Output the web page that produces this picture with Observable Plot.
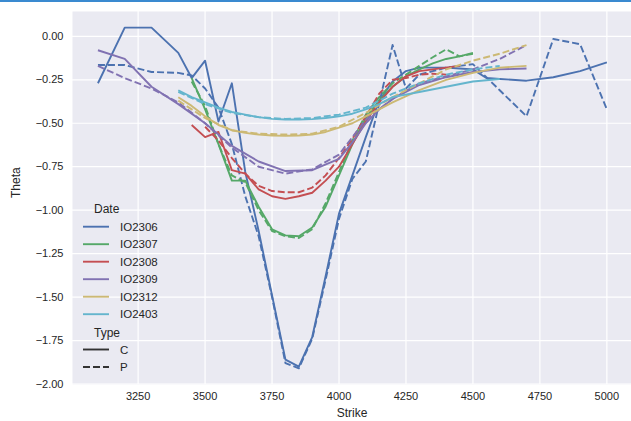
<!DOCTYPE html>
<html><head><meta charset="utf-8">
<script src="https://cdn.jsdelivr.net/npm/d3@7"></script>
<script src="https://cdn.jsdelivr.net/npm/@observablehq/plot@0.6"></script>
<style>
html,body{margin:0;padding:0;background:#fff;}
#wrap{position:relative;width:631px;height:421px;overflow:hidden;font-family:"Liberation Sans",Arial,sans-serif;}
#bar{height:2px;background:#3a8ad0;}
#chart svg{display:block;}
#legend{position:absolute;left:0;top:0;pointer-events:none;}
</style></head><body>
<div id="wrap"><div id="bar"></div><div id="chart"></div><svg id="legend" width="631" height="421"></svg></div>
<script>
const dates = ["IO2306","IO2307","IO2308","IO2309","IO2312","IO2403"];
const colors = ["#4c72b0","#55a868","#c44e52","#8172b2","#ccb974","#64b5cd"];
const types = ["C","P"];
const xTicks = [3250,3500,3750,4000,4250,4500,4750,5000];
const yTicks = [0,-0.25,-0.5,-0.75,-1,-1.25,-1.5,-1.75,-2];

// IO2306
const io2306C_strike = [3100,3200,3300,3400,3450,3500,3550,3600,3650,3700,3750,3800,3850,3900,3950,4000,4050,4100,4150,4200,4250,4300,4350,4400,4450,4500,4550,4600,4700,4800,4900,5000];
const io2306C_theta  = [-0.27,0.05,0.05,-0.095,-0.24,-0.14,-0.49,-0.27,-0.78,-1.12,-1.49,-1.86,-1.90,-1.73,-1.38,-1.02,-0.80,-0.58,-0.37,-0.26,-0.20,-0.18,-0.18,-0.18,-0.185,-0.19,-0.24,-0.245,-0.255,-0.235,-0.2,-0.15];
const io2306P_strike = [3100,3200,3300,3400,3450,3500,3550,3600,3650,3700,3750,3800,3850,3900,3950,4000,4050,4100,4200,4250,4300,4350,4400,4450,4500,4600,4700,4800,4900,5000];
const io2306P_theta  = [-0.165,-0.165,-0.205,-0.21,-0.225,-0.30,-0.41,-0.62,-0.92,-1.15,-1.50,-1.88,-1.91,-1.74,-1.40,-1.05,-0.82,-0.72,-0.05,-0.30,-0.22,-0.20,-0.18,-0.17,-0.16,-0.31,-0.46,-0.015,-0.045,-0.42];
// IO2307
const io2307C_strike = [3450,3500,3550,3600,3650,3700,3750,3800,3850,3900,3950,4000,4050,4100,4150,4200,4250,4300,4350,4400,4450,4500];
const io2307C_theta  = [-0.24,-0.42,-0.62,-0.83,-0.83,-0.98,-1.11,-1.145,-1.15,-1.10,-0.98,-0.80,-0.62,-0.47,-0.37,-0.29,-0.23,-0.19,-0.155,-0.13,-0.115,-0.095];
const io2307P_strike = [3450,3500,3550,3600,3650,3700,3750,3800,3850,3900,3950,4000,4050,4100,4150,4200,4250,4300,4350,4400,4450,4500];
const io2307P_theta  = [-0.26,-0.40,-0.62,-0.80,-0.84,-1.00,-1.12,-1.15,-1.16,-1.11,-0.96,-0.78,-0.60,-0.45,-0.35,-0.27,-0.22,-0.17,-0.12,-0.075,-0.115,-0.10];
// IO2308
const io2308C_strike = [3450,3500,3550,3600,3650,3700,3750,3800,3850,3900,3950,4000,4050,4100,4150,4200,4250,4300,4350,4400,4450];
const io2308C_theta  = [-0.51,-0.58,-0.55,-0.77,-0.79,-0.88,-0.92,-0.935,-0.92,-0.90,-0.83,-0.75,-0.62,-0.49,-0.38,-0.29,-0.23,-0.20,-0.19,-0.18,-0.17];
const io2308P_strike = [3500,3550,3600,3650,3700,3750,3800,3850,3900,3950,4000,4050,4100,4150,4200,4250,4300,4350,4400];
const io2308P_theta  = [-0.52,-0.60,-0.70,-0.79,-0.86,-0.89,-0.897,-0.897,-0.87,-0.80,-0.70,-0.59,-0.46,-0.33,-0.25,-0.24,-0.22,-0.215,-0.22];
// IO2309
const io2309C_strike = [3100,3200,3300,3400,3500,3600,3700,3800,3900,4000,4050,4100,4150,4200,4300,4400,4500,4600,4700];
const io2309C_theta  = [-0.08,-0.13,-0.29,-0.39,-0.50,-0.63,-0.72,-0.775,-0.77,-0.705,-0.61,-0.50,-0.42,-0.36,-0.28,-0.235,-0.205,-0.19,-0.185];
const io2309P_strike = [3100,3200,3300,3400,3500,3600,3700,3800,3900,4000,4050,4100,4200,4300,4400,4500,4600,4700];
const io2309P_theta  = [-0.17,-0.24,-0.30,-0.38,-0.50,-0.64,-0.75,-0.79,-0.765,-0.68,-0.58,-0.48,-0.36,-0.27,-0.23,-0.19,-0.13,-0.05];
// IO2312
const io2312C_strike = [3400,3450,3500,3550,3600,3650,3700,3750,3800,3850,3900,3950,4000,4050,4100,4150,4200,4300,4400,4500,4600,4700];
const io2312C_theta  = [-0.35,-0.40,-0.46,-0.51,-0.54,-0.555,-0.565,-0.57,-0.572,-0.57,-0.565,-0.55,-0.525,-0.50,-0.46,-0.42,-0.38,-0.31,-0.25,-0.21,-0.18,-0.17];
const io2312P_strike = [3400,3500,3600,3700,3800,3900,4000,4100,4200,4300,4400,4500,4600,4700];
const io2312P_theta  = [-0.37,-0.47,-0.54,-0.56,-0.565,-0.56,-0.52,-0.44,-0.35,-0.27,-0.19,-0.14,-0.10,-0.05];
// IO2403
const io2403C_strike = [3400,3450,3500,3550,3600,3650,3700,3750,3800,3850,3900,3950,4000,4050,4100,4150,4200,4300,4400,4500,4600];
const io2403C_theta  = [-0.31,-0.35,-0.38,-0.41,-0.435,-0.45,-0.465,-0.475,-0.478,-0.478,-0.476,-0.47,-0.46,-0.445,-0.42,-0.39,-0.35,-0.32,-0.29,-0.26,-0.245];
const io2403P_strike = [3400,3500,3600,3700,3800,3900,4000,4100,4200,4300,4400,4500,4600];
const io2403P_theta  = [-0.32,-0.39,-0.44,-0.465,-0.475,-0.47,-0.45,-0.41,-0.33,-0.27,-0.22,-0.19,-0.17];

const seriesTable = [
  ["IO2306","C",io2306C_strike,io2306C_theta],["IO2306","P",io2306P_strike,io2306P_theta],
  ["IO2307","C",io2307C_strike,io2307C_theta],["IO2307","P",io2307P_strike,io2307P_theta],
  ["IO2308","C",io2308C_strike,io2308C_theta],["IO2308","P",io2308P_strike,io2308P_theta],
  ["IO2309","C",io2309C_strike,io2309C_theta],["IO2309","P",io2309P_strike,io2309P_theta],
  ["IO2312","C",io2312C_strike,io2312C_theta],["IO2312","P",io2312P_strike,io2312P_theta],
  ["IO2403","C",io2403C_strike,io2403C_theta],["IO2403","P",io2403P_strike,io2403P_theta]
];

const dash = {C: null, P: "7,3"};
const lineMarks = seriesTable.map(([date, type, xs, ys]) =>
  Plot.line(xs.map((s, i) => ({strike: s, theta: ys[i], date, type})), {
    x: "strike", y: "theta", stroke: "date", strokeWidth: 1.9,
    strokeDasharray: dash[type], strokeLinejoin: "round", strokeLinecap: "butt"
  })
);

const chart = Plot.plot({
  width: 631, height: 419,
  marginLeft: 72, marginRight: 0, marginTop: 9, marginBottom: 37,
  style: {fontFamily: "'Liberation Sans', Arial, sans-serif", fontSize: "11px", color: "#262626", background: "white", overflow: "visible"},
  x: {domain: [3005, 5092], ticks: xTicks, tickSize: 0, tickPadding: 8, label: null, tickFormat: d3.format("d")},
  y: {domain: [-2.003, 0.143], ticks: yTicks, tickSize: 0, tickPadding: 9, label: null, tickFormat: d3.format(".2f")},
  color: {domain: dates, range: colors},
  marks: [
    Plot.frame({fill: "#eaeaf2", stroke: null}),
    Plot.ruleX(xTicks, {stroke: "white", strokeWidth: 1.2}),
    Plot.ruleY(yTicks, {stroke: "white", strokeWidth: 1.2}),
    ...lineMarks,
    Plot.text(["Strike"], {frameAnchor: "bottom", dy: 24, lineAnchor: "top", fontSize: 12, fill: "#262626"}),
    Plot.text(["Theta"], {frameAnchor: "left", dx: -56, rotate: -90, fontSize: 12, fill: "#262626"})
  ]
});
document.getElementById("chart").appendChild(chart);

// Legend (drawn inside the axes, lower-left)
const lg = d3.select("#legend").style("font-family", "'Liberation Sans', Arial, sans-serif").style("fill", "#262626");
const rowH = 17.5;
lg.append("text").attr("x", 94).attr("y", 209).attr("dominant-baseline", "central").attr("font-size", 12).text("Date");
dates.forEach((d, i) => {
  const y = 226.7 + i * rowH;
  lg.append("line").attr("x1", 83).attr("x2", 109).attr("y1", y).attr("y2", y).attr("stroke", colors[i]).attr("stroke-width", 1.9);
  lg.append("text").attr("x", 120).attr("y", y).attr("dominant-baseline", "central").attr("font-size", 11.5).text(d);
});
lg.append("text").attr("x", 94).attr("y", 332.5).attr("dominant-baseline", "central").attr("font-size", 12).text("Type");
types.forEach((t, i) => {
  const y = 349.5 + i * rowH;
  lg.append("line").attr("x1", 83).attr("x2", 109).attr("y1", y).attr("y2", y).attr("stroke", "#333333").attr("stroke-width", 1.9).attr("stroke-dasharray", dash[t]);
  lg.append("text").attr("x", 120).attr("y", y).attr("dominant-baseline", "central").attr("font-size", 11.5).text(t);
});
</script>
</body></html>
